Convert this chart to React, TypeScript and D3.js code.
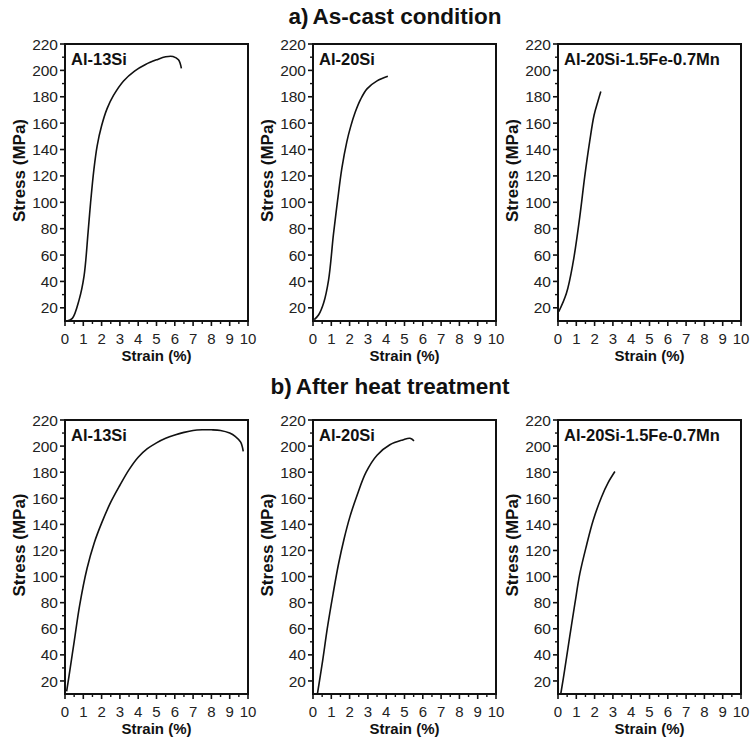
import React from 'react';
import * as d3 from 'd3';

const rowLetters = ['a)', 'b)'];
const rowTitles = ['As-cast condition', 'After heat treatment'];
const alloys = ['Al-13Si', 'Al-20Si', 'Al-20Si-1.5Fe-0.7Mn'];
const yTicks = [20, 40, 60, 80, 100, 120, 140, 160, 180, 200, 220];
const yMinor = [30, 50, 70, 90, 110, 130, 150, 170, 190, 210];
const xTicks = [0, 1, 2, 3, 4, 5, 6, 7, 8, 9, 10];
const xMinor = [0.5, 1.5, 2.5, 3.5, 4.5, 5.5, 6.5, 7.5, 8.5, 9.5];

// a) As-cast
const castAl13Strain = [0.1, 0.4, 0.77, 1.04, 1.26, 1.4, 1.58, 1.76, 2.0, 2.3, 2.65, 3.2, 3.8, 4.4, 5.0, 5.5, 5.9, 6.2, 6.36];
const castAl13Stress = [10, 12, 26, 44, 77, 100, 125, 143, 158, 171, 181, 192, 199.5, 204.5, 208, 210.3, 210.5, 208, 201.5];
const castAl20Strain = [0.07, 0.31, 0.58, 0.85, 1.12, 1.34, 1.58, 1.85, 2.05, 2.3, 2.6, 2.95, 3.5, 4.09];
const castAl20Stress = [11, 14.7, 23.6, 41, 76, 101, 126, 146, 157, 168, 178, 186, 192, 195.5];
const castFeMnStrain = [0.04, 0.46, 0.82, 1.19, 1.46, 1.73, 1.97, 2.19, 2.34];
const castFeMnStress = [17, 31, 54, 89, 119.5, 146, 166, 177, 184];

// b) After heat treatment
const heatAl13Strain = [0.09, 0.2, 0.5, 0.8, 1.2, 1.6, 2.0, 2.5, 3.0, 3.5, 4.0, 4.5, 5.0, 5.5, 6.0, 6.5, 7.0, 7.5, 8.0, 8.5, 9.0, 9.3, 9.6, 9.74];
const heatAl13Stress = [12, 22, 50, 78, 106, 126, 141, 157, 170, 182, 191.5, 198, 202.5, 206, 208.5, 210.5, 212, 212.5, 212.5, 212, 210, 207.5, 203, 196];
const heatAl20Strain = [0.24, 0.5, 0.8, 1.1, 1.4, 1.7, 2.0, 2.4, 2.9, 3.5, 4.2, 4.9, 5.3, 5.52];
const heatAl20Stress = [10, 33, 62, 87, 110, 129, 145, 162, 180, 193, 201, 204.7, 206, 204];
const heatFeMnStrain = [0.15, 0.37, 0.64, 0.92, 1.19, 1.56, 1.92, 2.38, 2.74, 3.11];
const heatFeMnStress = [10, 29, 54, 79, 102, 124, 143, 161, 172, 180.5];

const series = [
  [[castAl13Strain, castAl13Stress], [castAl20Strain, castAl20Stress], [castFeMnStrain, castFeMnStress]],
  [[heatAl13Strain, heatAl13Stress], [heatAl20Strain, heatAl20Stress], [heatFeMnStrain, heatFeMnStress]],
];

const colLeft = [65, 313, 558];
const panelW = 183;
const rowTop = [44, 420];
const rowBottom = [321, 694];
const titleY = [16, 386];
const titleX = [395, 390];
const FONT = 'Arial, "Liberation Sans", sans-serif';

function Panel({ row, col }: { row: number; col: number }) {
  const x0 = colLeft[col];
  const x1 = x0 + panelW;
  const y0 = rowTop[row];
  const y1 = rowBottom[row];
  const xs = d3.scaleLinear().domain([0, 10]).range([x0, x1]);
  const ys = d3.scaleLinear().domain([10, 220]).range([y1, y0]);
  const [sx, sy] = series[row][col];
  const pts: [number, number][] = sx.map((v, i) => [v, sy[i]]);
  const line = d3
    .line<[number, number]>()
    .x((d) => xs(d[0]))
    .y((d) => ys(d[1]))
    .curve(d3.curveCatmullRom.alpha(0.5));
  const cy = (y0 + y1) / 2 - 12;
  const cx = (x0 + x1) / 2;
  return (
    <g>
      <path d={line(pts) || ''} fill="none" stroke="#111" strokeWidth={1.6} />
      {yTicks.map((t) => (
        <g key={'y' + t}>
          <line x1={x0 - 5} x2={x0} y1={ys(t)} y2={ys(t)} stroke="#111" strokeWidth={1.6} />
          <text x={x0 - 7} y={ys(t)} dy="0.36em" textAnchor="end" fontSize={15.5} fontFamily={FONT} fill="#222">
            {t}
          </text>
        </g>
      ))}
      {yMinor.map((t) => (
        <line key={'ym' + t} x1={x0 - 3} x2={x0} y1={ys(t)} y2={ys(t)} stroke="#111" strokeWidth={1.4} />
      ))}
      {xTicks.map((t) => (
        <g key={'x' + t}>
          <line x1={xs(t)} x2={xs(t)} y1={y1} y2={y1 + 5} stroke="#111" strokeWidth={1.6} />
          <text x={xs(t)} y={y1 + 18} dy="0.36em" textAnchor="middle" fontSize={15} fontFamily={FONT} fill="#222">
            {t}
          </text>
        </g>
      ))}
      {xMinor.map((t) => (
        <line key={'xm' + t} x1={xs(t)} x2={xs(t)} y1={y1} y2={y1 + 3} stroke="#111" strokeWidth={1.4} />
      ))}
      <rect x={x0} y={y0} width={x1 - x0} height={y1 - y0} fill="none" stroke="#111" strokeWidth={2} />
      <text x={x0 + 6} y={y0 + 21} fontSize={16.5} fontWeight="bold" fontFamily={FONT} fill="#111">
        {alloys[col]}
      </text>
      <text x={cx} y={y1 + 35} dy="0.36em" textAnchor="middle" fontSize={15} fontWeight="bold" fontFamily={FONT} fill="#111">
        Strain (%)
      </text>
      <text
        transform={`translate(${x0 - 46},${cy}) rotate(-90)`}
        dy="0.36em"
        textAnchor="middle"
        fontSize={17}
        fontWeight="bold"
        fontFamily={FONT}
        fill="#111"
      >
        Stress (MPa)
      </text>
    </g>
  );
}

export default function App() {
  return (
    <svg
      width={754}
      height={741}
      style={{ position: 'absolute', left: 0, top: 0, background: '#fff' }}
    >
      <rect x={0} y={0} width={754} height={741} fill="#fff" />
      {[0, 1].map((r) => (
        <g key={'r' + r}>
          <text x={titleX[r]} y={titleY[r]} dy="0.36em" textAnchor="middle" fontSize={22.5} fontWeight="bold" fontFamily={FONT} fill="#111">
            {rowLetters[r]}
            <tspan dx={4}>{rowTitles[r]}</tspan>
          </text>
          {[0, 1, 2].map((c) => (
            <Panel key={'p' + r + c} row={r} col={c} />
          ))}
        </g>
      ))}
    </svg>
  );
}
